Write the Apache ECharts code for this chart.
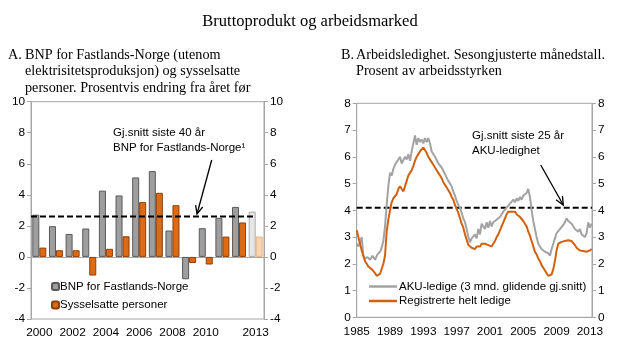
<!DOCTYPE html>
<html><head><meta charset="utf-8">
<script src="https://cdn.jsdelivr.net/npm/echarts@6/dist/echarts.min.js"></script>
<style>html,body{margin:0;padding:0;background:#fff}#c{width:620px;height:362px}</style>
</head><body><div id="c"></div>
<script>
// ---- Panel A data ----
const years = ['2000','2001','2002','2003','2004','2005','2006','2007','2008','2009','2010','2011','2012','2013'];
const yearLabels = ['2000','','2002','','2004','','2006','','2008','','2010','','','2013'];
const bnp = [2.72, 1.98, 1.48, 1.83, 4.27, 3.96, 5.12, 5.53, 1.7, -1.44, 1.85, 2.52, 3.22, 2.92];
const sysselsatte = [0.6, 0.43, 0.43, -1.2, 0.52, 1.33, 3.53, 4.13, 3.33, -0.39, -0.49, 1.31, 2.22, 1.31];
const projectionIndex = 13;
const avgBnp = 2.6;
// ---- Panel B data ([year, percent]) ----
const aku = [[1985.0,2.75],[1985.2,2.65],[1985.4,2.7],[1985.6,3.0],[1985.8,2.3],[1986.0,2.2],[1986.3,2.25],[1986.6,2.15],[1986.9,2.3],[1987.2,2.15],[1987.5,2.35],[1987.8,2.45],[1988.0,2.6],[1988.2,2.85],[1988.4,3.4],[1988.6,4.2],[1988.8,4.9],[1989.0,5.4],[1989.2,5.3],[1989.4,5.55],[1989.6,5.7],[1989.8,5.8],[1990.0,5.9],[1990.2,6.0],[1990.4,5.75],[1990.6,5.8],[1990.8,6.0],[1991.0,5.9],[1991.2,6.1],[1991.4,5.85],[1991.6,6.2],[1991.8,6.5],[1992.0,6.8],[1992.2,6.45],[1992.4,6.7],[1992.6,6.55],[1992.8,6.65],[1993.0,6.5],[1993.2,6.7],[1993.4,6.55],[1993.6,6.7],[1993.8,6.5],[1994.0,6.2],[1994.2,6.25],[1994.4,6.0],[1994.6,5.95],[1994.8,5.75],[1995.0,5.8],[1995.2,5.6],[1995.4,5.55],[1995.6,5.35],[1995.8,5.4],[1996.0,5.1],[1996.2,5.05],[1996.4,4.9],[1996.6,4.7],[1996.8,4.55],[1997.0,4.35],[1997.2,4.2],[1997.4,4.1],[1997.6,3.9],[1997.8,3.7],[1998.0,3.55],[1998.2,3.3],[1998.4,3.0],[1998.6,2.8],[1998.8,2.95],[1999.0,2.9],[1999.2,3.1],[1999.4,2.95],[1999.6,3.3],[1999.8,3.1],[2000.0,3.5],[2000.2,3.45],[2000.4,3.3],[2000.6,3.55],[2000.8,3.35],[2001.0,3.6],[2001.2,3.4],[2001.4,3.55],[2001.6,3.5],[2001.8,3.65],[2002.0,3.6],[2002.2,3.75],[2002.4,3.8],[2002.6,3.95],[2002.8,3.9],[2003.0,4.1],[2003.2,4.05],[2003.4,4.25],[2003.6,4.2],[2003.8,4.4],[2004.0,4.3],[2004.2,4.45],[2004.4,4.35],[2004.6,4.5],[2004.8,4.4],[2005.0,4.55],[2005.2,4.5],[2005.4,4.65],[2005.6,4.8],[2005.8,4.5],[2006.0,4.0],[2006.2,3.6],[2006.4,3.3],[2006.6,3.0],[2006.8,2.75],[2007.0,2.65],[2007.2,2.55],[2007.4,2.6],[2007.6,2.45],[2007.8,2.5],[2008.0,2.4],[2008.2,2.3],[2008.4,2.55],[2008.6,2.75],[2008.8,2.95],[2009.0,3.15],[2009.2,3.2],[2009.4,3.3],[2009.6,3.25],[2009.8,3.45],[2010.0,3.55],[2010.2,3.7],[2010.4,3.6],[2010.6,3.65],[2010.8,3.5],[2011.0,3.45],[2011.2,3.3],[2011.4,3.35],[2011.6,3.2],[2011.8,3.3],[2012.0,3.1],[2012.2,3.15],[2012.4,3.0],[2012.6,3.15],[2012.8,3.55],[2013.0,3.35],[2013.2,3.5]];
const registrerte = [[1985.0,3.25],[1985.2,3.0],[1985.4,2.75],[1985.6,2.5],[1985.8,2.3],[1986.0,2.1],[1986.2,2.0],[1986.4,1.9],[1986.6,1.85],[1986.8,1.8],[1987.0,1.78],[1987.2,1.65],[1987.4,1.55],[1987.6,1.5],[1987.8,1.62],[1988.0,1.6],[1988.2,2.0],[1988.4,2.3],[1988.6,3.2],[1988.8,3.65],[1989.0,4.0],[1989.2,4.3],[1989.4,4.45],[1989.6,4.5],[1989.8,4.6],[1990.0,4.8],[1990.2,4.9],[1990.4,4.95],[1990.6,4.7],[1990.8,4.7],[1991.0,5.1],[1991.2,5.3],[1991.4,5.4],[1991.6,5.5],[1991.8,5.65],[1992.0,5.85],[1992.2,6.0],[1992.4,6.1],[1992.6,6.2],[1992.8,6.25],[1993.0,6.35],[1993.2,6.3],[1993.4,6.15],[1993.6,6.0],[1993.8,5.95],[1994.0,5.8],[1994.2,5.7],[1994.4,5.65],[1994.6,5.5],[1994.8,5.4],[1995.0,5.3],[1995.2,5.2],[1995.4,5.05],[1995.6,4.95],[1995.8,4.85],[1996.0,4.75],[1996.2,4.65],[1996.4,4.5],[1996.6,4.4],[1996.8,4.2],[1997.0,4.05],[1997.2,3.9],[1997.4,3.7],[1997.6,3.5],[1997.8,3.35],[1998.0,3.1],[1998.2,2.9],[1998.4,2.7],[1998.6,2.65],[1998.8,2.6],[1999.0,2.65],[1999.2,2.55],[1999.4,2.65],[1999.6,2.7],[1999.8,2.65],[2000.0,2.75],[2000.2,2.7],[2000.4,2.75],[2000.6,2.8],[2000.8,2.7],[2001.0,2.75],[2001.2,2.65],[2001.4,2.7],[2001.6,2.85],[2001.8,3.0],[2002.0,3.1],[2002.2,3.25],[2002.4,3.4],[2002.6,3.55],[2002.8,3.7],[2003.0,3.85],[2003.2,3.95],[2003.4,4.0],[2003.6,3.95],[2003.8,4.0],[2004.0,3.95],[2004.2,3.85],[2004.4,3.8],[2004.6,3.75],[2004.8,3.7],[2005.0,3.6],[2005.2,3.5],[2005.4,3.4],[2005.6,3.2],[2005.8,3.05],[2006.0,2.85],[2006.2,2.65],[2006.4,2.45],[2006.6,2.35],[2006.8,2.2],[2007.0,2.1],[2007.2,1.95],[2007.4,1.85],[2007.6,1.75],[2007.8,1.65],[2008.0,1.55],[2008.2,1.5],[2008.4,1.6],[2008.6,1.8],[2008.8,2.1],[2009.0,2.5],[2009.2,2.75],[2009.4,2.8],[2009.6,2.82],[2009.8,2.85],[2010.0,2.85],[2010.2,2.9],[2010.4,2.88],[2010.6,2.95],[2010.8,2.85],[2011.0,2.8],[2011.2,2.7],[2011.4,2.6],[2011.6,2.55],[2011.8,2.5],[2012.0,2.45],[2012.2,2.48],[2012.4,2.42],[2012.6,2.45],[2012.8,2.45],[2013.0,2.5],[2013.2,2.55]];
const avgAku = 4.1;
const baseYear = 1985;
const endYear = 2013.25;

const SANS = 'Liberation Sans';
const SERIF = 'Liberation Serif';
const FS = 11.2;
const TFS = 14.2;
const frame = '#a6a6a6';

function yAx(grid, min, max, interval, pos) {
  return {
    type: 'value', gridIndex: grid, min: min, max: max, interval: interval, position: pos,
    axisLine: {show: true, lineStyle: {color: frame}},
    axisTick: {show: true, length: 4, lineStyle: {color: frame}},
    axisLabel: {color: '#000', fontFamily: SANS, fontSize: FS + 0.6, margin: 6},
    splitLine: {show: false}
  };
}

function arrow(x1, y1, x2, y2) {
  const a = Math.atan2(y2 - y1, x2 - x1), L = 9, s = 0.42;
  return [
    {type: 'line', shape: {x1: x1, y1: y1, x2: x2, y2: y2}, style: {stroke: '#000', lineWidth: 1.3}},
    {type: 'polyline', shape: {points: [
      [x2 - L * Math.cos(a - s), y2 - L * Math.sin(a - s)], [x2, y2],
      [x2 - L * Math.cos(a + s), y2 - L * Math.sin(a + s)]]},
      style: {stroke: '#000', lineWidth: 1.3, fill: null}}
  ];
}
function txt(x, y, t, font, size) {
  return {type: 'text', x: x, y: y, style: {text: t, fill: '#000', font: size + 'px "' + font + '"', textVerticalAlign: 'middle'}};
}

const gray = '#9e9e9e', grayB = '#595959', orange = '#de6b14', orangeB = '#8c3f0b';
const lightGray = '#e6e6e6', lightGrayB = '#ababab', lightOrange = '#fad5b0', lightOrangeB = '#e3b488';
const akuColor = '#a3a3a3', regColor = '#d2600f';

const option = {
  animation: false,
  backgroundColor: '#fff',
  grid: [
    {left: 31, right: 356, top: 101.7, bottom: 43, show: true, borderColor: frame, borderWidth: 1},
    {left: 31, right: 356, top: 101.7, bottom: 43, show: false},
    {left: 356.7, right: 28, top: 103.3, bottom: 44.7, show: true, borderColor: frame, borderWidth: 1}
  ],
  xAxis: [
    {type: 'category', gridIndex: 0, data: years,
     axisLine: {show: true, lineStyle: {color: frame}}, axisTick: {show: false},
     axisLabel: {interval: 0, color: '#000', fontFamily: SANS, fontSize: FS + 0.6, margin: 8,
       formatter: (v, i) => yearLabels[i]}},
    {type: 'value', gridIndex: 1, min: 0, max: years.length, show: false},
    {type: 'value', gridIndex: 2, min: 0, max: endYear - baseYear, interval: 4,
     axisLine: {show: true, lineStyle: {color: frame}}, axisTick: {show: false},
     axisLabel: {color: '#000', fontFamily: SANS, fontSize: FS + 0.6, margin: 8, showMaxLabel: false,
       formatter: v => String(Math.round(v + baseYear))},
     splitLine: {show: false}}
  ],
  yAxis: [
    yAx(0, -4, 10, 2, 'left'),
    yAx(0, -4, 10, 2, 'right'),
    yAx(2, 0, 8, 1, 'left'),
    yAx(2, 0, 8, 1, 'right'),
    {type: 'value', gridIndex: 1, min: -4, max: 10, show: false}
  ],
  legend: [
    {orient: 'vertical', left: 51, top: 280.5, itemWidth: 7, itemHeight: 7, itemGap: 6.5, padding: 0,
     textStyle: {fontFamily: SANS, fontSize: FS + 0.3, color: '#000', padding: [0, 0, 0, -4]},
     data: ['BNP for Fastlands-Norge', 'Sysselsatte personer']},
    {orient: 'vertical', left: 369, top: 280.5, itemWidth: 28, itemHeight: 2.5, itemGap: 2.5, padding: 0,
     icon: 'rect',
     textStyle: {fontFamily: SANS, fontSize: FS + 0.3, color: '#000', padding: [0, 0, 0, -3]},
     data: ['AKU-ledige (3 mnd. glidende gj.snitt)', 'Registrerte helt ledige']}
  ],
  series: [
    {name: 'BNP for Fastlands-Norge', type: 'bar', xAxisIndex: 0, yAxisIndex: 0, barWidth: 7, barGap: '0%',
     itemStyle: {color: gray, borderColor: grayB, borderWidth: 1},
     data: bnp.map((v, i) => i === projectionIndex ? {value: v, itemStyle: {color: lightGray, borderColor: lightGrayB}} : v)},
    {name: 'Sysselsatte personer', type: 'bar', xAxisIndex: 0, yAxisIndex: 0, barWidth: 7, barGap: '0%',
     itemStyle: {color: orange, borderColor: orangeB, borderWidth: 1},
     data: sysselsatte.map((v, i) => i === projectionIndex ? {value: v, itemStyle: {color: lightOrange, borderColor: lightOrangeB}} : v)},
    {name: 'avgA', type: 'line', xAxisIndex: 1, yAxisIndex: 4, symbol: 'none',
     lineStyle: {color: '#000', width: 2, type: [6, 3]},
     data: [[0, avgBnp], [years.length - 0.5, avgBnp]]},
    {name: 'avgB', type: 'line', xAxisIndex: 2, yAxisIndex: 2, symbol: 'none',
     lineStyle: {color: '#000', width: 2, type: [6, 3]},
     data: [[0, avgAku], [endYear - baseYear, avgAku]]},
    {name: 'AKU-ledige (3 mnd. glidende gj.snitt)', type: 'line', xAxisIndex: 2, yAxisIndex: 2, symbol: 'none',
     lineStyle: {color: akuColor, width: 2}, itemStyle: {color: akuColor},
     data: aku.map(p => [p[0] - baseYear, p[1]])},
    {name: 'Registrerte helt ledige', type: 'line', xAxisIndex: 2, yAxisIndex: 2, symbol: 'none',
     lineStyle: {color: regColor, width: 2}, itemStyle: {color: regColor},
     data: registrerte.map(p => [p[0] - baseYear, p[1]])}
  ],
  graphic: [
    {type: 'text', left: 'center', top: 13, style: {text: 'Bruttoprodukt og arbeidsmarked', fill: '#000', font: '16.5px "' + SERIF + '"'}},
    txt(8, 55, 'A.', SERIF, TFS),
    txt(25, 55, 'BNP for Fastlands-Norge (utenom', SERIF, TFS),
    txt(25, 71.5, 'elektrisitetsproduksjon) og sysselsatte', SERIF, TFS),
    txt(25, 88, 'personer. Prosentvis endring fra året før', SERIF, TFS),
    txt(341, 55, 'B.', SERIF, TFS),
    txt(356, 55, 'Arbeidsledighet. Sesongjusterte månedstall.', SERIF, TFS),
    txt(356, 71.5, 'Prosent av arbeidsstyrken', SERIF, TFS),
    txt(113, 133, 'Gj.snitt siste 40 år', SANS, FS + 0.3),
    txt(113, 147.5, 'BNP for Fastlands-Norge\u00b9', SANS, FS + 0.3),
    txt(472, 136, 'Gj.snitt siste 25 år', SANS, FS + 0.3),
    txt(472, 150.5, 'AKU-ledighet', SANS, FS + 0.3)
  ].concat(arrow(211.7, 160, 197, 214)).concat(arrow(540.7, 165, 563.3, 205))
};
const chart = echarts.init(document.getElementById('c'), null, {renderer: 'canvas'});
chart.setOption(option);
</script></body></html>
